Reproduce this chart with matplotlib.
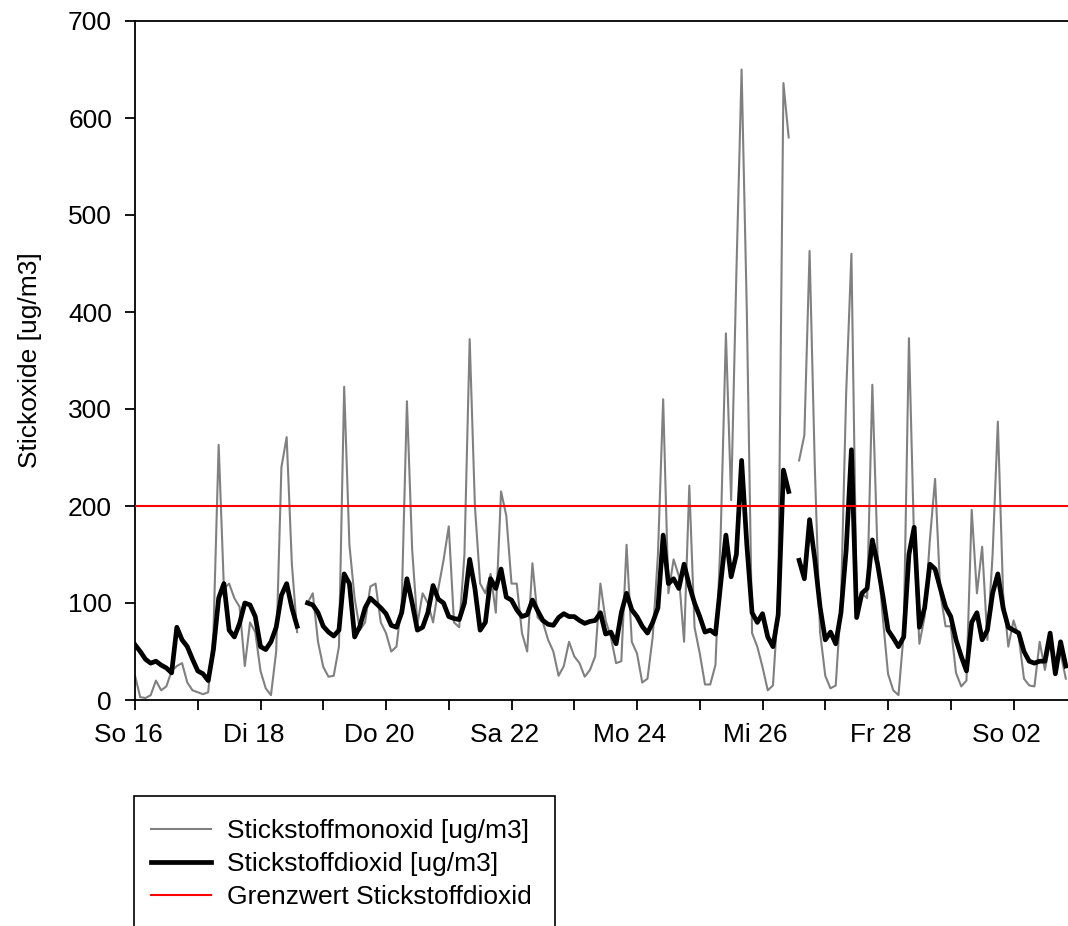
import numpy as np
import pandas as pd
import matplotlib
matplotlib.use("Agg")
import matplotlib.pyplot as plt
import matplotlib.dates as mdates
from matplotlib.patches import Rectangle
from matplotlib.lines import Line2D
from matplotlib.transforms import ScaledTranslation

plt.rcParams["font.family"] = ["Liberation Sans", "DejaVu Sans"]

nan = np.nan

# 2-hourly values, one row per day (Feb 16 2003 .. Mar 2 2003)
no_values = [
    25, 3, 2, 5, 20, 10, 14, 30, 35, 38, 18, 10,            # So 16
    8, 6, 8, 70, 263, 115, 120, 105, 96, 35, 80, 70,        # Mo 17
    30, 12, 5, 50, 240, 271, 140, 70, nan, 100, 110, 60,    # Di 18
    34, 24, 25, 55, 323, 160, 105, 72, 80, 117, 120, 80,    # Mi 19
    69, 50, 55, 100, 308, 155, 78, 110, 100, 80, 115, 144,  # Do 20
    179, 80, 75, 150, 372, 200, 120, 110, 130, 90, 215, 190,  # Fr 21
    120, 120, 69, 50, 141, 85, 80, 62, 50, 25, 35, 60,      # Sa 22
    45, 38, 24, 31, 45, 120, 82, 65, 38, 40, 160, 60,       # So 23
    48, 18, 22, 65, 150, 310, 110, 145, 128, 60, 221, 75,   # Mo 24
    48, 16, 16, 36, 170, 378, 206, 440, 650, 400, 69, 55,   # Di 25
    34, 10, 15, 100, 636, 580, nan, 247, 273, 463, 240, 70,  # Mi 26
    25, 12, 15, 100, 317, 460, 100, 110, 105, 325, 150, 85,  # Do 27
    27, 10, 5, 69, 373, 160, 58, 86, 165, 228, 110, 76,     # Fr 28
    76, 28, 14, 20, 196, 110, 158, 62, 150, 287, 110, 55,   # Sa 01
    82, 65, 22, 15, 14, 60, 31, 60, 40, 48, 22,             # So 02
]

no2_values = [
    57, 50, 42, 38, 40, 36, 33, 28, 75, 62, 55, 42,         # So 16
    30, 27, 20, 52, 105, 120, 72, 65, 79, 100, 98, 86,      # Mo 17
    55, 52, 60, 75, 108, 120, 95, 76, nan, 100, 98, 90,     # Di 18
    76, 70, 66, 72, 130, 120, 65, 76, 95, 105, 100, 95,     # Mi 19
    89, 77, 75, 90, 125, 100, 72, 75, 90, 118, 104, 100,    # Do 20
    86, 84, 83, 100, 145, 115, 72, 80, 125, 115, 135, 106,  # Fr 21
    103, 93, 86, 88, 103, 92, 82, 78, 77, 85, 89, 86,       # Sa 22
    86, 82, 79, 81, 82, 90, 68, 70, 58, 90, 110, 93,        # So 23
    86, 76, 69, 80, 95, 170, 120, 125, 115, 140, 118, 100,  # Mo 24
    86, 70, 72, 68, 120, 170, 127, 150, 247, 160, 90, 80,   # Di 25
    89, 65, 55, 88, 237, 215, nan, 144, 125, 186, 145, 96,  # Mi 26
    62, 70, 58, 90, 155, 258, 85, 110, 115, 165, 140, 108,  # Do 27
    72, 64, 55, 65, 150, 178, 75, 95, 140, 135, 115, 96,    # Fr 28
    86, 62, 45, 30, 80, 90, 62, 72, 110, 130, 95, 75,       # Sa 01
    72, 69, 50, 40, 38, 40, 40, 69, 27, 60, 35,             # So 02
]

limit_no2 = 200

tick_dates = ["2003-02-16", "2003-02-18", "2003-02-20", "2003-02-22",
              "2003-02-24", "2003-02-26", "2003-02-28", "2003-03-02"]
tick_labels = ["So 16", "Di 18", "Do 20", "Sa 22", "Mo 24", "Mi 26", "Fr 28", "So 02"]

times = pd.date_range("2003-02-16 00:00", periods=len(no_values), freq="2h")

W, H = 1068, 926
fig = plt.figure(figsize=(W / 100, H / 100), dpi=100)
ax = fig.add_axes([135 / W, (H - 700) / H, 1 - 135 / W, (700 - 21) / H])

ax.plot(times, no_values, color="#808080", lw=1.5, zorder=2)
ax.plot(times, no2_values, color="black", lw=3.4, zorder=3)
ax.axhline(limit_no2, color="#ff0000", lw=1.5, zorder=4)

ax.set_ylim(0, 700)
ax.set_xlim(times[0], times[-1] + pd.Timedelta(minutes=50))
ax.set_yticks(np.arange(0, 701, 100))
ax.set_xticks(pd.to_datetime(tick_dates))
ax.set_xticklabels(tick_labels)
ax.xaxis.set_minor_locator(mdates.DayLocator())

ax.spines["right"].set_visible(False)
for s in ("left", "bottom", "top"):
    ax.spines[s].set_linewidth(1.3)

ax.tick_params(axis="both", which="both", direction="out", length=7.5, width=1.3,
               labelsize=19)
ax.tick_params(axis="y", pad=9)
ax.tick_params(axis="x", pad=9)
for lab in ax.get_xticklabels():
    lab.set_transform(lab.get_transform() + ScaledTranslation(-7 / 100, 0, fig.dpi_scale_trans))

ax.set_ylabel("Stickoxide [ug/m3]", fontsize=19)
ax.yaxis.set_label_coords(-0.0997, 0.5)

handles = [
    Line2D([], [], color="#808080", lw=1.5),
    Line2D([], [], color="black", lw=3.4),
    Line2D([], [], color="#ff0000", lw=1.5),
]
labels = ["Stickstoffmonoxid [ug/m3]", "Stickstoffdioxid [ug/m3]", "Grenzwert Stickstoffdioxid"]
fig.legend(handles, labels, loc="upper left", bbox_to_anchor=(151 / W, 1 - 819 / H),
           frameon=False, fontsize=19, borderpad=0, borderaxespad=0,
           handlelength=2.27, handletextpad=0.6, labelspacing=0.35)
fig.add_artist(Rectangle((134 / W, (H - 950) / H), (555 - 134) / W, (950 - 796) / H,
                         transform=fig.transFigure, fill=False, lw=1.2, ec="black"))

fig.savefig("out.png", dpi=100)
